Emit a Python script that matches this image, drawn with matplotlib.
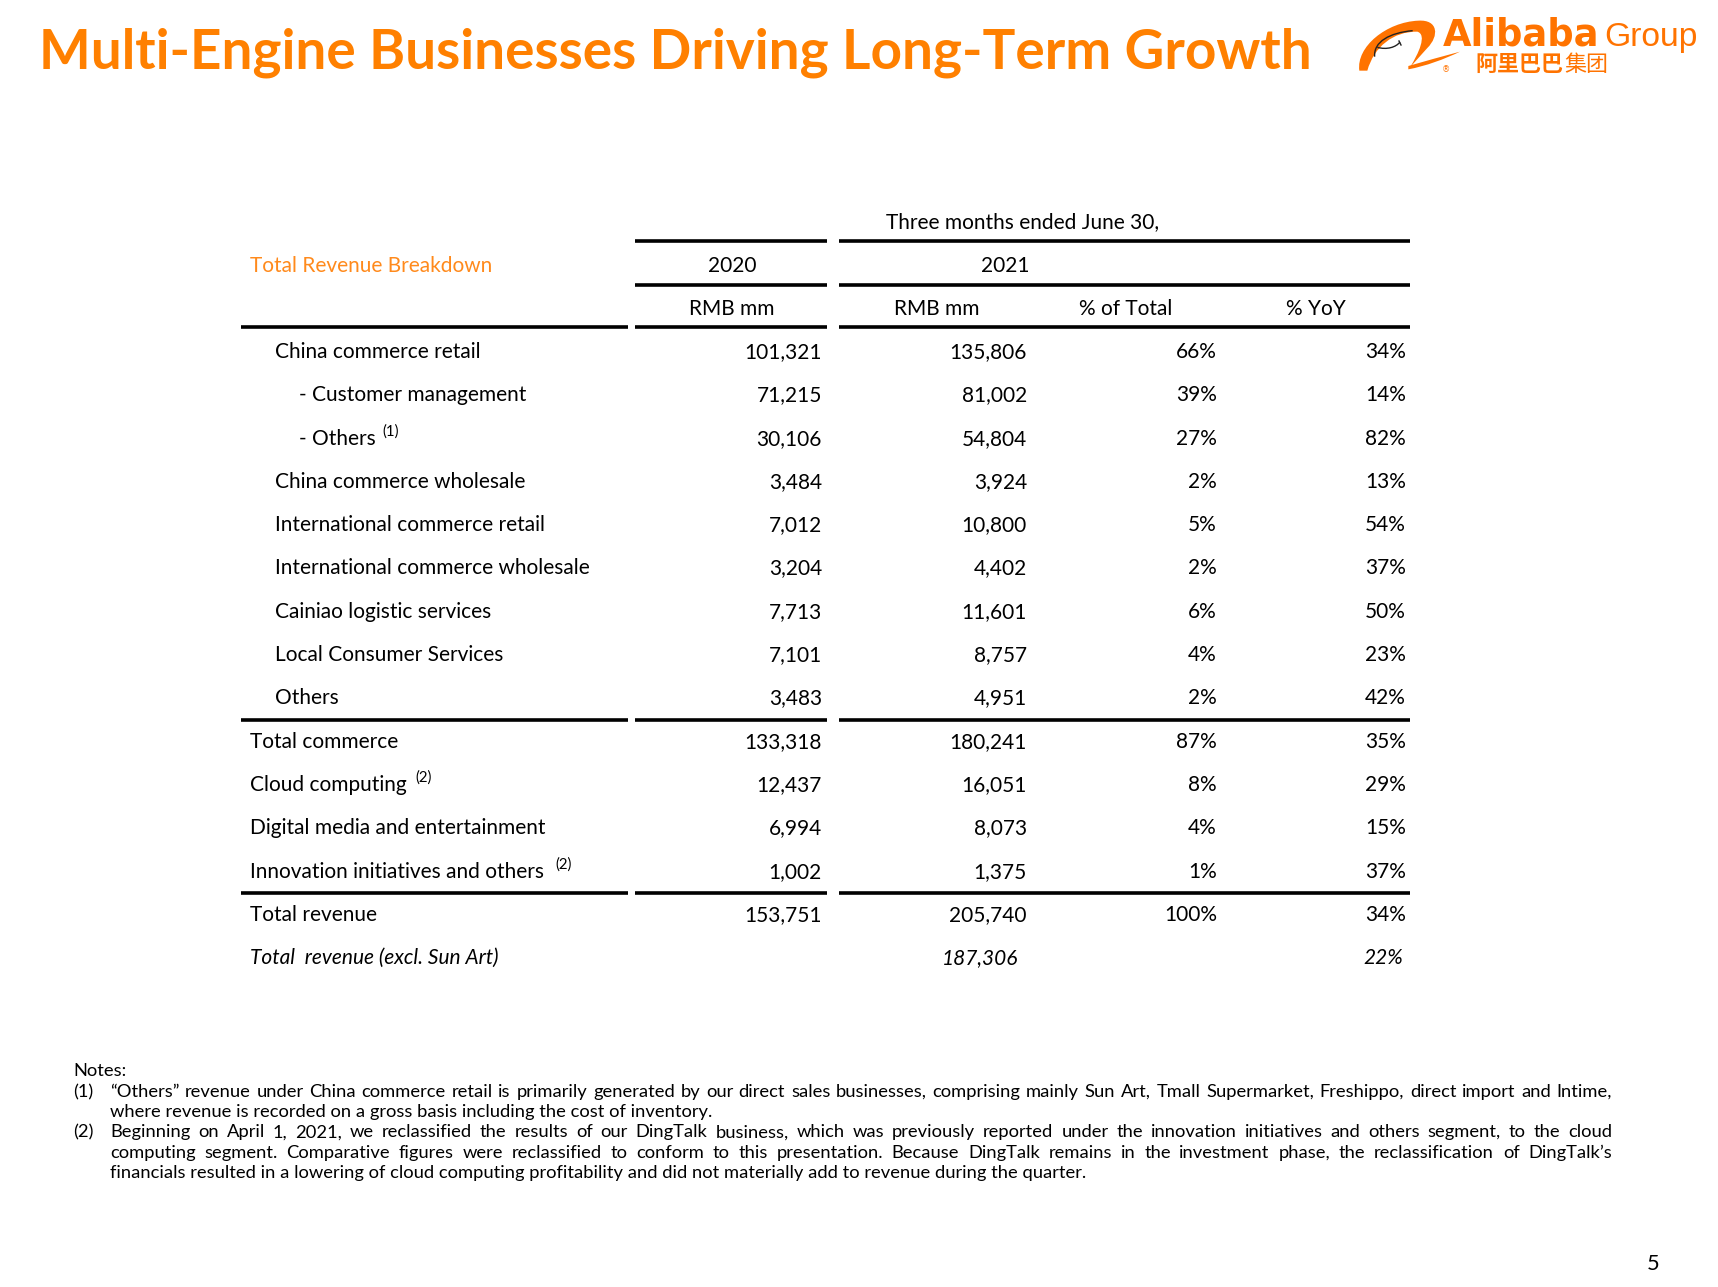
import matplotlib
matplotlib.use("Agg")
import matplotlib.pyplot as plt
from matplotlib.font_manager import FontProperties
from matplotlib.path import Path
from matplotlib.patches import PathPatch

# ---------------- data ----------------
title = "Multi-Engine Businesses Driving Long-Term Growth"
period_header = "Three months ended June 30,"
section_label = "Total Revenue Breakdown"
years = ["2020", "2021"]
col_headers = ["RMB mm", "RMB mm", "% of Total", "% YoY"]

row_labels = ["China commerce retail", "- Customer management", "- Others",
              "China commerce wholesale", "International commerce retail",
              "International commerce wholesale", "Cainiao logistic services",
              "Local Consumer Services", "Others", "Total commerce",
              "Cloud computing", "Digital media and entertainment",
              "Innovation initiatives and others", "Total revenue",
              "Total  revenue (excl. Sun Art)"]
row_indent = [1, 2, 2, 1, 1, 1, 1, 1, 1, 0, 0, 0, 0, 0, 0]
row_note = ["", "", "(1)", "", "", "", "", "", "", "", "(2)", "", "(2)", "", ""]
rev_2020 = [101321, 71215, 30106, 3484, 7012, 3204, 7713, 7101, 3483,
            133318, 12437, 6994, 1002, 153751, None]
rev_2021 = [135806, 81002, 54804, 3924, 10800, 4402, 11601, 8757, 4951,
            180241, 16051, 8073, 1375, 205740, 187306]
pct_total = [66, 39, 27, 2, 5, 2, 6, 4, 2, 87, 8, 4, 1, 100, None]
pct_yoy = [34, 14, 82, 13, 54, 37, 50, 23, 42, 35, 29, 15, 37, 34, 22]
rules_after = [8, 12]  # rows followed by a rule

notes_title = "Notes:"
notes = [
    ("(1)", ["\u201cOthers\u201d revenue under China commerce retail is primarily generated by our direct sales businesses, comprising mainly Sun Art, Tmall Supermarket, Freshippo, direct import and Intime,",
             "where revenue is recorded on a gross basis including the cost of inventory."]),
    ("(2)", ["Beginning on April 1, 2021, we reclassified the results of our DingTalk business, which was previously reported under the innovation initiatives and others segment, to the cloud",
             "computing segment. Comparative figures were reclassified to conform to this presentation. Because DingTalk remains in the investment phase, the reclassification of DingTalk\u2019s",
             "financials resulted in a lowering of cloud computing profitability and did not materially add to revenue during the quarter."]),
]
page_number = "5"

# ---------------- style ----------------
ORANGE = "#FF8000"
ORANGE_LIGHT = "#FF8A1C"
LOGO = "#FF7300"
FONT = "Lato"

W, H = 1718, 1287
fig = plt.figure(figsize=(W / 100, H / 100), dpi=100)
ax = fig.add_axes([0, 0, 1, 1])
ax.set_xlim(0, W)
ax.set_ylim(H, 0)
ax.axis("off")
renderer = fig.canvas.get_renderer()


def text_w(s, fp):
    w, h, d = renderer.get_text_width_height_descent(s, fp, ismath=False)
    return w


def fit(s, target, **kw):
    fp = FontProperties(size=10, **kw)
    return 10 * target / text_w(s, fp)


# ---------------- title ----------------
ts = fit(title, 1276, family=FONT, weight="bold")
ax.text(39, 68, title, fontsize=ts, family=FONT, weight="bold", color=ORANGE,
        ha="left", va="baseline")

# ---------------- logo ----------------
def P(zx, zy):
    return (1340 + zx / 3, zy / 3)

body = [P(58, 212), P(48, 140), P(140, 66), P(235, 62),
        P(295, 58), P(298, 108), P(262, 144),
        P(210, 202),
        P(236, 160), P(262, 104), P(232, 95),
        P(160, 94), P(102, 140), P(82, 212),
        P(58, 212)]
codes = [Path.MOVETO, Path.CURVE4, Path.CURVE4, Path.CURVE4,
         Path.CURVE4, Path.CURVE4, Path.CURVE4,
         Path.LINETO,
         Path.CURVE4, Path.CURVE4, Path.CURVE4,
         Path.CURVE4, Path.CURVE4, Path.CURVE4,
         Path.CLOSEPOLY]
ax.add_patch(PathPatch(Path(body, codes), facecolor=LOGO, edgecolor="none"))
tail = [P(205, 198), P(255, 184), P(310, 168), P(360, 155),
        P(312, 178), P(258, 198), P(205, 208), P(205, 198)]
tcodes = [Path.MOVETO, Path.CURVE4, Path.CURVE4, Path.CURVE4,
          Path.CURVE4, Path.CURVE4, Path.CURVE4, Path.CLOSEPOLY]
ax.add_patch(PathPatch(Path(tail, tcodes), facecolor=LOGO, edgecolor="none"))
face = [P(104, 170), P(100, 125), P(150, 98), P(218, 92)]
ax.add_patch(PathPatch(Path(face, [Path.MOVETO, Path.CURVE4, Path.CURVE4, Path.CURVE4]),
                       facecolor="none", edgecolor="#222222", lw=1.0))
smile = [P(112, 142), P(140, 150), P(168, 142), P(180, 126)]
ax.add_patch(PathPatch(Path(smile, [Path.MOVETO, Path.CURVE4, Path.CURVE4, Path.CURVE4]),
                       facecolor="none", edgecolor="#222222", lw=1.0))
ax.plot([1399, 1401], [41, 45], color="#222222", lw=1.0)

als = fit("Alibaba", 156, family="DejaVu Sans", weight="bold")
ax.text(1443, 46, "Alibaba", fontsize=als, family="DejaVu Sans", weight="bold",
        color=LOGO, ha="left", va="baseline")
gs = fit("Group", 94, family="Liberation Sans")
ax.text(1604, 46, "Group", fontsize=gs, family="Liberation Sans",
        color=LOGO, ha="left", va="baseline")
cs = fit("\u963f\u91cc\u5df4\u5df4", 88, family="Noto Sans CJK SC", weight="bold")
ax.text(1475, 71, "\u963f\u91cc\u5df4\u5df4", fontsize=cs, family="Noto Sans CJK SC",
        weight="bold", color=LOGO, ha="left", va="baseline")
ax.text(1564, 71, "\u96c6\u56e2", fontsize=cs, family="Noto Sans CJK SC",
        weight="light", color=LOGO, ha="left", va="baseline")
ax.text(1446, 70, "\u00ae", fontsize=6, family="DejaVu Sans", color=LOGO,
        ha="center", va="center")

# ---------------- table ----------------
fs = fit("International commerce wholesale", 314, family=FONT)
sup_fs = fs * 0.72
fp = FontProperties(family=FONT, size=fs)

x_indent = [250, 275, 299]
x_col_right = [822, 1027, 1217, 1406]
x_col_center = [732, 937, 1126, 1316]

y_period = 228
y_years = 272
y_cols = 315
row0 = 358
row_h = 43.3

ax.text(1023, y_period, period_header, fontsize=fs, family=FONT, ha="center", va="baseline")
ax.text(250, y_years, section_label, fontsize=fs, family=FONT, color=ORANGE_LIGHT,
        ha="left", va="baseline")
ax.text(732, y_years, years[0], fontsize=fs, family=FONT, ha="center", va="baseline")
ax.text(1005, y_years, years[1], fontsize=fs, family=FONT, ha="center", va="baseline")
for xc, lab in zip(x_col_center, col_headers):
    ax.text(xc, y_cols, lab, fontsize=fs, family=FONT, ha="center", va="baseline")

seg_label = (241, 628)
seg_2020 = (635, 827)
seg_2021 = (839, 1410)
lw = 2.6
for y in (241, 285):
    for a, b in (seg_2020, seg_2021):
        ax.plot([a, b], [y, y], color="black", lw=lw, solid_capstyle="butt")
rule_ys = [326.5] + [row0 + row_h * (r + 0.5) - 6 for r in rules_after]
for y in rule_ys:
    for a, b in (seg_label, seg_2020, seg_2021):
        ax.plot([a, b], [y, y], color="black", lw=lw, solid_capstyle="butt")

n = len(row_labels)
for i in range(n):
    y = row0 + row_h * i
    italic = (i == n - 1)
    style = "italic" if italic else "normal"
    x0 = x_indent[row_indent[i]]
    ax.text(x0, y, row_labels[i], fontsize=fs, family=FONT, style=style,
            ha="left", va="baseline")
    if row_note[i]:
        lw_txt = text_w(row_labels[i], fp)
        gap = 7 if row_indent[i] else 9
        if "Innovation" in row_labels[i]:
            gap = 11
        ax.text(x0 + lw_txt + gap, y - 9, row_note[i], fontsize=sup_fs, family=FONT,
                ha="left", va="baseline")
    vals = [rev_2020[i], rev_2021[i], pct_total[i], pct_yoy[i]]
    for j, v in enumerate(vals):
        if v is None:
            continue
        s = f"{v:,}" if j < 2 else f"{v}%"
        xr = x_col_right[j]
        if italic:
            xr -= 9 if j == 1 else 3
        ax.text(xr, y, s, fontsize=fs, family=FONT, style=style, ha="right", va="baseline")

# ---------------- notes ----------------
nfs = fit("where revenue is recorded on a gross basis including the cost of inventory.", 604,
          family=FONT)
nfp = FontProperties(family=FONT, size=nfs)
ax.text(73, 1076, notes_title, fontsize=nfs, family=FONT, ha="left", va="baseline")
x_left, x_right = 110, 1612
ny = 1097
line_h = 20.2
for tag, lines in notes:
    ax.text(73, ny, tag, fontsize=nfs, family=FONT, ha="left", va="baseline")
    for k, line in enumerate(lines):
        if k < len(lines) - 1:
            words = line.split(" ")
            widths = [text_w(wd, nfp) for wd in words]
            gap = (x_right - x_left - sum(widths)) / (len(words) - 1)
            x = x_left
            for wd, wdw in zip(words, widths):
                ax.text(x, ny, wd, fontsize=nfs, family=FONT, ha="left", va="baseline")
                x += wdw + gap
        else:
            ax.text(x_left, ny, line, fontsize=nfs, family=FONT, ha="left", va="baseline")
        ny += line_h

ax.text(1660, 1270, page_number, fontsize=fs * 1.05, family=FONT, ha="right", va="baseline")

fig.savefig("out.png", dpi=100)
